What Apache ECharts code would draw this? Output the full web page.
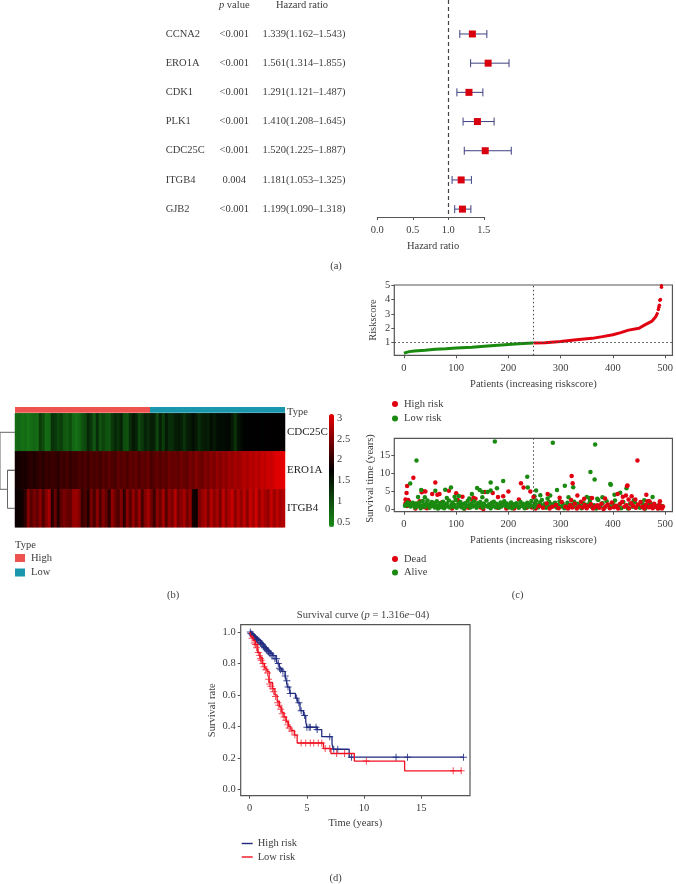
<!DOCTYPE html>
<html><head><meta charset="utf-8"><style>html,body{margin:0;padding:0;background:#fff}#c{width:676px;height:884px}</style>
<script src="https://cdn.jsdelivr.net/npm/echarts@6/dist/echarts.min.js"></script></head><body><div id="c"></div>
<script>
// ---------- (a) forest plot
const genes=['CCNA2','ERO1A','CDK1','PLK1','CDC25C','ITGB4','GJB2'];
const pValues=['<0.001','<0.001','<0.001','<0.001','<0.001','0.004','<0.001'];
const hr=[1.339,1.561,1.291,1.410,1.520,1.181,1.199];
const hrLow=[1.162,1.314,1.121,1.208,1.225,1.053,1.090];
const hrHigh=[1.543,1.855,1.487,1.645,1.887,1.325,1.318];
const forestTicks=[0,0.5,1,1.5];
// ---------- (b) heatmap
const heatRows=['CDC25C','ERO1A','ITGB4'];
const cdc25c=[.7,.75,.65,.7,.6,.7,.75,.7,1.15,1.0,.7,.75,1.25,1.2,1.05,1.15,.9,.85,1.0,.75,.65,.75,.95,1.05,1.35,1.2,.9,1.3,.95,1.1,.95,.9,1.2,1.35,1.25,1.4,1.0,.95,1.3,1.5,1.4,1.05,1.2,1.4,1.3,1.45,1.4,1.05,1.45,1.15,1.5,1.3,1.3,1.45,1.5,1.45,1.25,1.45,1.5,1.6,1.5,1.3,1.45,1.5,1.45,1.6,1.5,1.6,1.62,1.62,1.65,1.65,1.5,1.25,1.55,1.65,1.72,1.72,1.75,1.72,1.75,1.75,1.72,1.75,1.75,1.75,1.75,1.75,1.75,1.75];
const ero1a=[1.85,1.85,1.9,1.88,1.95,2.0,1.92,2.0,2.05,1.98,2.08,2.02,2.1,2.05,2.0,2.12,2.08,2.15,2.05,2.12,2.1,2.18,2.12,2.2,2.1,2.22,2.15,2.2,2.12,2.25,2.18,2.28,2.2,2.15,2.3,2.22,2.28,2.18,2.3,2.25,2.32,2.2,2.3,2.25,2.35,2.18,2.25,2.32,2.22,2.3,2.25,2.38,2.3,2.35,2.28,2.4,2.32,2.3,2.45,2.35,2.5,2.4,2.35,2.5,2.42,2.55,2.45,2.6,2.5,2.62,2.55,2.68,2.6,2.72,2.65,2.7,2.8,2.72,2.82,2.78,2.85,2.8,2.9,2.85,2.95,2.9,3.0,3.05,3.05,3.1];
const itgb4=[1.8,1.8,1.85,2.0,2.5,2.25,2.45,2.3,2.55,2.2,2.5,2.7,1.95,2.35,1.95,2.3,2.45,2.35,2.3,2.6,2.65,2.5,2.05,2.2,1.95,2.45,2.15,2.55,2.2,2.5,2.3,2.0,2.6,2.35,2.2,2.5,2.0,2.55,2.25,2.6,2.3,2.65,2.15,2.5,2.7,2.4,2.1,2.55,2.35,2.7,2.25,2.6,2.45,2.8,2.4,2.55,2.7,2.4,2.6,1.85,1.8,2.45,2.6,2.75,2.45,2.8,2.55,2.7,2.45,2.85,2.55,2.75,2.9,2.55,2.8,2.6,2.85,2.55,2.9,2.7,2.95,2.6,2.85,2.7,2.6,2.9,2.65,2.85,2.7,2.8];
const typeCounts=[247,247];
const colorbarTicks=[0.5,1,1.5,2,2.5,3];
const dendroPath=[[0,.5],[2,.5],[2,2],[1,2],[1,1.5],[0,1.5],[1,1.5],[1,2.5],[0,2.5]];
// ---------- (c) risk score
const riskLow=[[0,.27],[5,.33],[10,.38],[20,.43],[40,.48],[60,.54],[80,.58],[100,.63],[130,.68],[160,.77],[180,.83],[200,.88],[220,.92],[247,.97]];
const riskHigh=[[248,.97],[270,1.0],[300,1.08],[330,1.2],[360,1.3],[380,1.42],[400,1.55],[415,1.7],[430,1.87],[450,2.0],[462,2.25],[475,2.5],[482,2.8],[486,3.1]];
const riskTop=[[487,3.3],[488,3.45],[489,3.6],[490,3.95],[491,4.0],[493,4.85],[493,4.95]];
const patientTicks=[0,100,200,300,400,500];
const riskTicks=[1,2,3,4,5];
const survTicks=[0,5,10,15];
const aliveUpper=[[174,18.7],[285,18.4],[366,17.9],[24,13.5],[357,10.3],[365,8.2],[236,9],[12,7.1],[190,7.8],[166,7.4],[178,5.8],[237,6],[140,5.9],[90,6],[60,5.1],[79,5.4],[33,5.3],[145,5.3],[150,4.8],[160,4.8],[166,5.2],[253,5.2],[293,5.3],[308,6.5],[324,6.1],[395,7],[396,6.8],[426,5.8],[403,4],[414,4.6],[130,4.2],[27,3.4],[40,3.3],[82,3.1],[97,3.5],[105,3.7],[125,3],[150,3.3],[261,3.9],[275,3],[280,3.8],[315,3.3],[350,3.4],[355,3.1],[370,2.9],[380,3.3],[476,3.4],[440,2.5],[460,2.5],[250,3.6]];
const aliveBand=[[2,1],[4,1.3],[7,1.9],[9,1.1],[11,1.6],[13,.8],[15,1.4],[17,1.8],[19,1.2],[21,.5],[23,1.6],[26,.9],[28,1.4],[30,1.9],[32,.3],[34,1],[36,2.3],[38,1.2],[40,.7],[43,1.7],[45,2.4],[47,1.1],[49,.4],[51,1.5],[53,2],[55,.9],[57,1.8],[59,.5],[61,1.2],[63,2.2],[65,.2],[67,1],[69,1.7],[71,.6],[73,1.4],[75,2.1],[77,.3],[80,1.1],[82,1.6],[84,.8],[86,2.4],[88,.5],[91,1.3],[93,1.9],[95,.7],[97,1.2],[99,2.6],[101,.4],[104,1.5],[106,1],[108,2],[110,.6],[113,1.4],[115,.2],[117,1.7],[120,.9],[122,2.3],[125,1.2],[127,.5],[129,1.6],[132,.8],[134,2.2],[136,1.1],[139,.4],[141,1.7],[143,.9],[146,2],[148,1.3],[151,.5],[153,1.6],[156,1],[158,2.4],[161,.7],[163,1.4],[166,.3],[168,1.8],[170,1],[172,2.1],[175,.6],[177,1.5],[180,1.1],[182,.4],[185,1.9],[187,.8],[190,1.4],[192,2.2],[195,.9],[197,1.6],[200,.5],[202,1.2],[205,1.9],[207,.3],[210,1.4],[212,.8],[215,1.7],[218,1.1],[220,.4],[223,2],[226,.9],[228,1.5],[231,.3],[233,1.2],[236,1.8],[239,.7],[241,1.4],[244,2.3],[246,1],[249,.6],[251,1.7],[253,2.4],[255,1.1],[257,.5],[260,1.9],[262,1.3],[264,2.6],[267,.8],[270,1.5],[272,.4],[275,1.1],[278,2],[280,.7],[283,1.4],[286,.9],[289,1.8],[292,.5],[295,1.2],[298,2.2],[301,.8],[304,1.5],[307,.3],[310,1],[313,1.8],[316,.6],[320,1.3],[323,.9],[326,2.1],[330,.5],[333,1.5],[337,1],[340,.3],[344,1.7],[348,.8],[352,1.3],[356,2.3],[360,.6],[364,1.1],[368,.2],[372,2.6],[376,.9],[380,1.7],[384,.4],[388,2.2],[392,1.1],[396,.6],[400,1.5],[404,2.4],[408,.7],[412,1.2],[416,.3],[420,2],[425,.9],[429,.2],[433,1.5],[438,.7],[442,2],[447,1],[452,.4],[457,1.4],[462,.2],[467,1.1],[472,1.7],[477,.5],[482,1],[488,.3],[494,.9]];
const deadUpper=[[18,8.7],[6,6.4],[5,4.5],[60,7.4],[34,4.7],[37,5],[41,4.9],[54,4.2],[64,4],[68,4.2],[86,5.1],[100,4.4],[155,4.8],[170,4.5],[190,3.6],[200,4.9],[224,7.2],[229,6],[242,4.9],[321,9.2],[323,7.2],[447,13.5],[428,6.6],[427,6.4],[275,4.2],[298,3.2],[332,3.8],[345,2.9],[360,3.1],[385,3],[409,4.2],[419,3.5],[425,3.8],[436,3.6],[464,4],[3,2.7],[8,2.6],[30,2.2],[48,.7],[112,3.5],[133,3.2],[137,2.9],[180,3.4],[220,2.7],[248,3.4],[320,2.6],[430,2.7],[443,2.7],[470,2.2],[490,2.2]];
const deadBand=[[3,1.7],[6,.9],[10,2.1],[22,.2],[27,1],[39,.6],[44,.3],[52,1],[66,.6],[72,1.9],[78,.8],[92,.2],[103,2.6],[109,.9],[116,.2],[124,.4],[131,2.4],[140,1.1],[147,.5],[152,.1],[165,1],[179,.4],[188,1.4],[196,.2],[204,.9],[211,.2],[219,.6],[227,1.3],[235,.4],[240,1],[245,.5],[252,.2],[259,.9],[266,.4],[273,1.6],[279,.2],[284,.7],[291,1.2],[296,.3],[302,2],[309,.7],[314,.2],[318,1.1],[322,.5],[327,1.5],[331,.2],[335,.8],[339,2.1],[342,.5],[346,1.2],[350,.3],[354,.9],[358,1.4],[362,.2],[366,.7],[370,1.1],[374,.4],[378,1.5],[382,.1],[386,.8],[390,1.3],[394,.3],[398,1.9],[402,.6],[406,1],[410,.2],[414,1.5],[418,2.1],[422,.7],[426,1.1],[431,.3],[435,1.7],[439,.9],[444,.4],[448,1.3],[453,2],[456,.7],[460,.2],[463,1.2],[466,2.2],[469,.6],[473,1],[476,.3],[479,1.5],[483,.7],[486,.2],[489,1.4],[491,.6],[494,.2],[496,.8]];
// ---------- (d) survival curve
const kmHigh=[[0,1],[.2,.985],[.4,.97],[.6,.955],[.8,.945],[1,.93],[1.2,.91],[1.4,.895],[1.6,.88],[1.8,.865],[2,.85],[2.3,.83],[2.4,.8],[2.6,.77],[2.8,.75],[3.1,.72],[3.2,.69],[3.3,.65],[3.5,.61],[4,.58],[4.2,.55],[4.4,.5],[4.7,.47],[4.9,.43],[5,.395],[5.9,.38],[6.3,.335],[7.2,.29],[7.3,.255],[8.7,.205],[18.7,.205]];
const kmLow=[[0,1],[.1,.97],[.3,.945],[.5,.92],[.7,.87],[.9,.84],[1.1,.8],[1.3,.77],[1.5,.75],[1.7,.68],[2,.64],[2.2,.6],[2.4,.56],[2.6,.525],[2.8,.49],[3,.46],[3.2,.43],[3.4,.4],[3.6,.375],[3.9,.345],[4.15,.295],[6.45,.26],[7.1,.228],[9.15,.18],[13.55,.118],[18.55,.118]];
const kmHighCensor=[[.05,1],[.1,.99],[.2,.985],[.25,.98],[.3,.975],[.4,.97],[.45,.965],[.5,.96],[.6,.955],[.65,.95],[.7,.95],[.8,.945],[.9,.935],[.95,.93],[1.05,.925],[1.1,.92],[1.2,.91],[1.3,.9],[1.35,.9],[1.45,.89],[1.5,.885],[1.6,.88],[1.65,.875],[1.75,.865],[1.85,.86],[1.95,.85],[2.05,.85],[2.2,.83],[2.35,.83],[2.5,.8],[2.6,.77],[2.7,.76],[2.9,.75],[3.1,.72],[3.25,.69],[3.35,.65],[3.55,.61],[4.1,.58],[4.3,.55],[4.5,.5],[4.8,.47],[5,.395],[5.2,.395],[5.3,.395],[5.8,.395],[5.9,.38],[7,.335],[7.35,.255],[7.7,.255],[8.9,.205],[12.8,.205],[13.8,.205],[18.7,.205]];
const kmLowCensor=[[.2,.96],[.4,.93],[.5,.92],[.6,.9],[.75,.87],[.85,.85],[.95,.83],[1,.82],[1.15,.8],[1.25,.78],[1.4,.76],[1.55,.74],[1.65,.7],[1.75,.67],[1.85,.655],[2,.64],[2.1,.62],[2.25,.59],[2.45,.55],[2.55,.535],[2.7,.51],[2.85,.48],[3,.46],[3.15,.44],[3.3,.41],[3.45,.39],[3.7,.37],[3.95,.345],[4.5,.295],[4.9,.295],[5.3,.295],[5.6,.295],[6,.295],[6.3,.295],[6.6,.26],[7,.26],[7.6,.228],[8.3,.228],[10.2,.18],[17.8,.118],[18.5,.118]];
const kmXTicks=[0,5,10,15];
const kmYTicks=[0,.2,.4,.6,.8,1];

const FONT='"Liberation Serif",serif', TXT='#3c3c3c', AX='#555', RED='#e00010', GRN='#1a8a10', NAVY='#1f2a80';
const txt=(s=10.5)=>({fontFamily:FONT,fontSize:s,color:TXT});
const T=(text,x,y,extra)=>Object.assign({text,left:x,top:y,padding:0,textAlign:'center',textVerticalAlign:'middle',textStyle:Object.assign(txt(),{fontWeight:'normal',rich:{i:Object.assign(txt(),{fontStyle:'italic'}),n:txt()}})},extra||{});
const hide={show:false};
function boxAxis(gridIndex,min,max,ticks,name,nameGap,margin,fmt,namePad){return {type:'value',gridIndex,min,max,name,nameLocation:'middle',nameGap,nameTextStyle:Object.assign(txt(),namePad?{padding:namePad}:{}),splitLine:hide,axisLine:{show:false,onZero:false},axisTick:{show:true,length:3,lineStyle:{color:AX},customValues:ticks},axisLabel:Object.assign(txt(),{margin,customValues:ticks,formatter:fmt||(v=>String(v))})};}
const plus='path://M4.3 0H5.7V4.3H10V5.7H5.7V10H4.3V5.7H0V4.3H4.3Z';

const grids=[
 {left:377.3,width:106.5,top:0,height:217},                       //0 forest
 {left:15,width:270,top:413.3,height:114},                        //1 heat
 {left:15,width:270,top:407,height:5.7},                          //2 type bar
 {left:329,width:5,top:414,height:113},                           //3 colorbar labels
 {left:0,width:15,top:413.3,height:114},                          //4 dendrogram
 {left:394.3,width:280.7,top:285,height:70.3,show:true,borderColor:AX,borderWidth:1.2}, //5 risk
 {left:394.3,width:280.7,top:438.3,height:73.4,show:true,borderColor:AX,borderWidth:1.2},//6 surv
 {left:240.7,width:229.3,top:624.7,height:171,show:true,borderColor:AX,borderWidth:1.2}  //7 km
];
const cols=cdc25c.map((_,i)=>i);
const xAxes=[
 {type:'value',gridIndex:0,min:0,max:1.5,position:'bottom',name:'Hazard ratio',nameLocation:'middle',nameGap:24,nameTextStyle:Object.assign(txt(),{padding:[0,0,0,5]}),splitLine:hide,axisLine:{show:true,onZero:false,lineStyle:{color:AX}},axisTick:{show:true,length:3,lineStyle:{color:AX},customValues:forestTicks},axisLabel:Object.assign(txt(),{margin:8,customValues:forestTicks,formatter:v=>v.toFixed(1)})},
 {type:'category',gridIndex:1,data:cols,show:false},
 {type:'value',gridIndex:2,min:0,max:494,show:false},
 {type:'value',gridIndex:3,min:0,max:1,show:false},
 {type:'value',gridIndex:4,min:0,max:2,inverse:true,show:false},
 boxAxis(5,-18.5,514,patientTicks,'Patients (increasing riskscore)',23,7.5),
 boxAxis(6,-18.5,514,patientTicks,'Patients (increasing riskscore)',23,7),
 boxAxis(7,-.79,19.27,kmXTicks,'Time (years)',22,7)
];
const yAxes=[
 {type:'value',gridIndex:0,min:-1.164,max:6.27,inverse:true,show:false},
 {type:'category',gridIndex:1,data:heatRows,inverse:true,position:'right',axisLine:hide,axisTick:hide,axisLabel:Object.assign(txt(11),{margin:2,color:'#222'})},
 {type:'category',gridIndex:2,data:['Type'],show:false},
 {type:'value',gridIndex:3,min:.38,max:3.1,position:'right',splitLine:hide,axisLine:hide,axisTick:hide,axisLabel:Object.assign(txt(),{margin:3,customValues:colorbarTicks,formatter:v=>String(v)})},
 {type:'value',gridIndex:4,min:0,max:3,inverse:true,show:false},
 boxAxis(5,.125,5,riskTicks,'Riskscore',15.5,4),
 boxAxis(6,-.66,19.6,survTicks,'Survival time (years)',18,4,null,[0,7,0,0]),
 boxAxis(7,-.04,1.0465,kmYTicks,'Survival rate',23,5,v=>v.toFixed(1))
];
const heatData=[];
[cdc25c,ero1a,itgb4].forEach((row,r)=>row.forEach((v,c)=>heatData.push([c,r,v])));
const forestRows=genes.map((g,i)=>[hr[i],i,hrLow[i],hrHigh[i]]);
const allAlive=aliveBand.concat(aliveUpper), allDead=deadBand.concat(deadUpper);
const series=[
 {type:'custom',xAxisIndex:0,yAxisIndex:0,clip:false,data:forestRows,encode:{x:[0,2,3],y:1},
  renderItem(p,api){const i=api.value(1),m=api.coord([api.value(0),i]),l=api.coord([api.value(2),i]),h=api.coord([api.value(3),i]);
   const ln=(a,b,c,d)=>({type:'line',shape:{x1:a,y1:b,x2:c,y2:d},style:{stroke:'#3d4080',lineWidth:1}});
   const t=(s,x,align)=>({type:'text',style:{text:s,x,y:m[1],align,verticalAlign:'middle',font:'10.5px '+FONT,fill:TXT}});
   const d=p.dataIndex;
   return {type:'group',children:[ln(l[0],m[1],h[0],m[1]),ln(l[0],m[1]-4,l[0],m[1]+4),ln(h[0],m[1]-4,h[0],m[1]+4),
    {type:'rect',shape:{x:m[0]-3.5,y:m[1]-3.5,width:7,height:7},style:{fill:'#d8000f'}},
    t(genes[d],165.7,'left'),t(pValues[d],234.3,'center'),t(hr[d].toFixed(3)+'('+hrLow[d].toFixed(3)+'–'+hrHigh[d].toFixed(3)+')',304,'center')]};
  }},
 {type:'line',xAxisIndex:0,yAxisIndex:0,data:[],markLine:{silent:true,symbol:'none',label:hide,lineStyle:{color:'#444',type:[4,3],width:1.2},data:[{xAxis:1}],animation:false}},
 {type:'heatmap',name:'expr',xAxisIndex:1,yAxisIndex:1,data:heatData,progressive:0,emphasis:{disabled:true}},
 {type:'bar',name:'High',xAxisIndex:2,yAxisIndex:2,stack:'t',barWidth:'100%',data:[typeCounts[0]],itemStyle:{color:'#ef5350'}},
 {type:'bar',name:'Low',xAxisIndex:2,yAxisIndex:2,stack:'t',barWidth:'100%',data:[typeCounts[1]],itemStyle:{color:'#1a96ad'}},
 {type:'line',xAxisIndex:4,yAxisIndex:4,clip:false,showSymbol:false,data:dendroPath,lineStyle:{color:'#666',width:1}},
 {type:'line',name:'High risk',xAxisIndex:5,yAxisIndex:5,data:riskHigh,showSymbol:false,lineStyle:{color:RED,width:3},itemStyle:{color:RED}},
 {type:'scatter',name:'High risk',xAxisIndex:5,yAxisIndex:5,data:riskTop,symbolSize:3.5,itemStyle:{color:RED,opacity:1}},
 {type:'line',name:'Low risk',xAxisIndex:5,yAxisIndex:5,data:riskLow,showSymbol:false,lineStyle:{color:GRN,width:3},itemStyle:{color:GRN},
  markLine:{silent:true,symbol:'none',label:hide,lineStyle:{color:'#444',type:[1.5,2.5],width:1},data:[{xAxis:248},{yAxis:1}],animation:false}},
 {type:'scatter',name:'Alive',xAxisIndex:6,yAxisIndex:6,data:allAlive.filter(d=>d[0]>=250),symbolSize:4.5,itemStyle:{color:GRN,opacity:1},
  markLine:{silent:true,symbol:'none',label:hide,lineStyle:{color:'#444',type:[1.5,2.5],width:1},data:[{xAxis:248}],animation:false}},
 {type:'scatter',name:'Dead',xAxisIndex:6,yAxisIndex:6,data:allDead,symbolSize:4.5,itemStyle:{color:RED,opacity:1}},
 {type:'scatter',name:'Alive',xAxisIndex:6,yAxisIndex:6,data:allAlive.filter(d=>d[0]<250),symbolSize:4.5,itemStyle:{color:GRN,opacity:1}},
 {type:'line',name:'KM High risk',xAxisIndex:7,yAxisIndex:7,step:'end',data:kmHigh,showSymbol:false,lineStyle:{color:NAVY,width:1.3},itemStyle:{color:NAVY}},
 {type:'line',name:'KM Low risk',xAxisIndex:7,yAxisIndex:7,step:'end',data:kmLow,showSymbol:false,lineStyle:{color:'#f01020',width:1.3},itemStyle:{color:'#f01020'}},
 {type:'scatter',xAxisIndex:7,yAxisIndex:7,data:kmHighCensor,symbol:plus,symbolSize:7,itemStyle:{color:NAVY,opacity:.85}},
 {type:'scatter',xAxisIndex:7,yAxisIndex:7,data:kmLowCensor,symbol:plus,symbolSize:7,itemStyle:{color:'#f01020',opacity:.75}}
];
const stripKM=n=>n.replace('KM ','');
const lg=(names,left,top,extra)=>Object.assign({orient:'vertical',left,top,padding:0,data:names,selectedMode:false,itemGap:3,textStyle:txt(),formatter:stripKM,icon:'circle',itemWidth:8,itemHeight:6},extra||{});
const option={animation:false,backgroundColor:'#fff',
 title:[
  T('{i|p} value',234.3,5),T('Hazard ratio',302,5),T('(a)',336,266),
  T('Type',287,412,{textAlign:'left'}),T('Type',15,545,{textAlign:'left'}),T('(b)',173,595),
  T('(c)',517.7,595),
  T('Survival curve ({i|p} = 1.316{i|e}−04)',363,615),T('(d)',335.7,878)
 ],
 grid:grids,xAxis:xAxes,yAxis:yAxes,series,
 visualMap:{type:'continuous',seriesIndex:2,dimension:2,min:.38,max:3.1,calculable:false,hoverLink:false,left:329,top:414,padding:0,itemWidth:5,itemHeight:113,text:null,inRange:{color:['#1a8c1a','#000000','#e80000']}},
 legend:[
  lg(['High risk','Low risk'],392,398.5,{itemGap:3.5}),
  lg(['Dead','Alive'],392,553.5,{itemGap:2.5}),
  lg(['KM High risk','KM Low risk'],241.7,838,{icon:'rect',itemWidth:11,itemHeight:1.4,itemGap:2.5}),
  lg(['High','Low'],15,552.5,{icon:'rect',itemWidth:10,itemHeight:8,itemGap:3.5,textStyle:Object.assign(txt(),{padding:[0,0,0,1]})})
 ]
};
const chart=echarts.init(document.getElementById('c'),null,{renderer:'canvas'});
chart.setOption(option);
</script></body></html>
